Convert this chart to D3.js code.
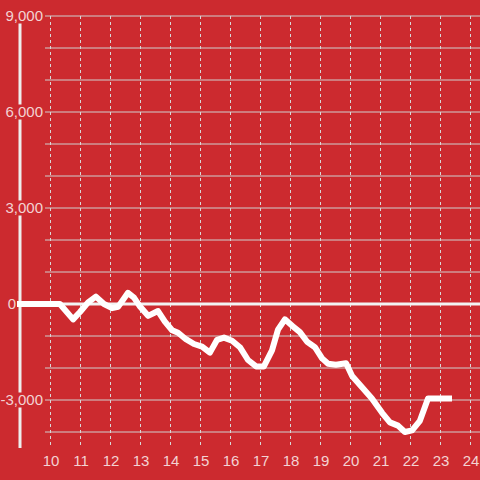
<!DOCTYPE html>
<html><head><meta charset="utf-8">
<script src="https://cdn.jsdelivr.net/npm/d3@7"></script>
<style>html,body{margin:0;padding:0;background:#cc2a2f;}svg{display:block;}</style>
</head><body>
<svg id="c" width="480" height="480"></svg>
<script>
const hours = [8.9,10.33,10.77,11.0,11.27,11.53,11.8,12.07,12.27,12.6,12.8,13.0,13.27,13.6,13.83,14.07,14.27,14.53,14.8,15.07,15.33,15.57,15.8,16.07,16.33,16.6,16.87,17.13,17.4,17.6,17.83,18.1,18.33,18.57,18.83,19.07,19.27,19.53,19.87,20.07,20.4,20.73,21.07,21.33,21.6,21.83,22.07,22.33,22.6,23.4];
const values = [0,0,-480,-250,50,230,0,-130,-90,350,200,-80,-370,-220,-550,-820,-900,-1100,-1250,-1330,-1520,-1120,-1050,-1150,-1350,-1750,-1950,-1950,-1450,-800,-480,-700,-880,-1180,-1350,-1700,-1870,-1900,-1850,-2250,-2600,-2950,-3400,-3700,-3800,-4000,-3950,-3650,-2950,-2950];
const xTicks = [10,11,12,13,14,15,16,17,18,19,20,21,22,23,24];
const yLabelTicks = [-3000,3000,6000,9000];
const zeroLabel = 0;
const yGridTicks = [-4000,-3000,-2000,-1000,0,1000,2000,3000,4000,5000,6000,7000,8000,9000];

const bg = "#cc2a2f";
const font = "'Liberation Sans', Arial, sans-serif";
const fmt = v => d3.format(",")(v).replace("\u2212","-");
const svg = d3.select("#c");
svg.append("rect").attr("width",480).attr("height",480).attr("fill",bg);

const x = d3.scaleLinear().domain([9,24]).range([20,470]);
const y = d3.scaleLinear().domain([-4500,9000]).range([448,16]);

// horizontal gridlines
svg.append("g").selectAll("line").data(yGridTicks).join("line")
  .attr("x1",45).attr("x2",480)
  .attr("y1",d=>y(d)).attr("y2",d=>y(d))
  .attr("stroke","#cfcfcf").attr("stroke-width",1);

// vertical dashed gridlines
svg.append("g").selectAll("line").data(xTicks).join("line")
  .attr("x1",d=>x(d)+0.5).attr("x2",d=>x(d)+0.5)
  .attr("y1",16).attr("y2",448)
  .attr("stroke","#d8d8d8").attr("stroke-width",1).attr("stroke-dasharray","3,3");

// y axis line
svg.append("line").attr("x1",20).attr("x2",20).attr("y1",16).attr("y2",448)
  .attr("stroke","#eeeeee").attr("stroke-width",3);

// zero line
svg.append("line").attr("x1",17).attr("x2",480).attr("y1",y(0)).attr("y2",y(0))
  .attr("stroke","#f2f2f2").attr("stroke-width",3);

// data line
const line = d3.line().x((d,i)=>x(hours[i])).y(d=>y(d));
svg.append("path").datum(values).attr("d",line)
  .attr("fill","none").attr("stroke","#ffffff").attr("stroke-width",6)
  .attr("stroke-linejoin","round");

// y labels with background
const yl = svg.append("g").selectAll("g").data(yLabelTicks).join("g")
  .attr("transform",d=>`translate(43,${y(d)})`);
yl.append("text").text(d=>fmt(d))
  .attr("text-anchor","end").attr("dy","0.35em")
  .attr("font-family",font).attr("font-size",15)
  .attr("fill","#f3d3d3");
yl.each(function(){
  const t = d3.select(this).select("text").node().getBBox();
  d3.select(this).insert("rect","text").attr("x",t.x-1).attr("y",-7.5).attr("width",t.width+2).attr("height",15).attr("fill",bg);
});
svg.append("text").attr("x",16).attr("y",y(zeroLabel)).attr("dy","0.35em")
  .attr("text-anchor","end")
  .attr("font-family",font).attr("font-size",15)
  .attr("fill","#f3d3d3").text(fmt(zeroLabel));

// x labels
svg.append("g").selectAll("text").data(xTicks).join("text")
  .attr("x",d=>x(d)+1).attr("y",461).attr("dy","0.35em")
  .attr("text-anchor","middle")
  .attr("font-family",font).attr("font-size",15)
  .attr("fill","#f3d3d3").text(d=>d);
</script>
</body></html>
